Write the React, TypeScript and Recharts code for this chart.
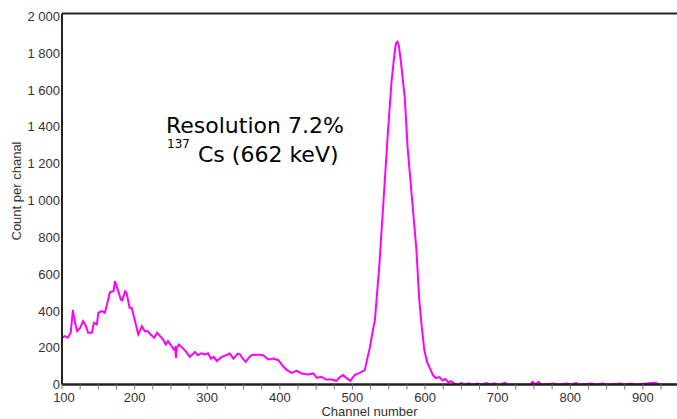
import React from "react";
import {
  LineChart,
  Line,
  XAxis,
  YAxis,
  Label,
  ReferenceLine,
} from "recharts";

// channel positions and counts
const channels = [
  100, 104, 108, 112, 115, 118, 121, 125, 129, 133, 136, 141, 144, 148, 150, 155, 159, 162, 166, 171,
  173, 176, 181, 183, 187, 189, 193, 196, 200, 205, 210, 214, 218, 222, 227, 231, 235, 239, 243, 246,
  251, 254, 256, 257, 258, 261, 266, 271, 276, 283, 287, 292, 297, 301, 305, 309, 313, 320, 326, 331,
  336, 342, 345, 349, 353, 357, 361, 366, 372, 377, 384, 391, 398, 405, 409, 416, 423, 430, 439, 446,
  451, 457, 464, 471, 478, 482, 487, 491, 497, 503, 510, 517, 521, 524, 528, 531, 537, 543, 549, 554,
  558, 560, 562, 564, 567, 572, 576, 582, 588, 592, 595, 599, 603, 606, 611, 615, 620, 624, 628, 632,
  636, 640, 645, 650, 655, 660, 665, 672, 678, 685, 690, 695, 700, 705, 710, 713, 745, 748, 752, 756,
  760, 778, 782, 796, 800, 808, 812, 830, 834, 846, 850, 870, 874, 885, 889, 913, 918, 922, 945,
];
const counts = [
  254, 263, 254, 281, 404, 335, 290, 308, 344, 317, 281, 281, 335, 326, 390, 399, 390, 435, 502, 507,
  561, 525, 462, 458, 507, 498, 417, 417, 353, 272, 317, 290, 290, 272, 254, 281, 263, 245, 217, 236,
  208, 190, 200, 145, 199, 217, 199, 177, 150, 177, 159, 170, 164, 170, 141, 150, 128, 150, 159, 168,
  141, 168, 164, 140, 123, 145, 159, 162, 161, 159, 136, 141, 132, 96, 81, 63, 74, 60, 54, 60,
  36, 42, 27, 27, 20, 38, 51, 38, 20, 51, 63, 78, 150, 200, 291, 352, 645, 1012, 1379, 1653,
  1800, 1855, 1862, 1840, 1745, 1562, 1287, 1012, 737, 462, 330, 187, 120, 94, 50, 35, 40, 22, 30, 12,
  18, 5, 0, 8, 0, 6, 0, 5, 0, 8, 0, 6, 0, 0, 10, 0, 0, 15, 0, 14,
  0, 5, 0, 6, 0, 8, 0, 6, 0, 5, 0, 6, 0, 5, 0, 8, 10, 0, 0,
];
const xTicks = [
  100, 125, 150, 175, 200, 225, 250, 275, 300, 325, 350, 375, 400, 425, 450, 475, 500, 525, 550, 575,
  600, 625, 650, 675, 700, 725, 750, 775, 800, 825, 850, 875, 900, 925,
];
const yTicks = [0, 200, 400, 600, 800, 1000, 1200, 1400, 1600, 1800, 2000];

const data = channels.map((ch, i) => ({ ch, count: counts[i] }));

const tickFont = { fontFamily: "Liberation Sans, Arial, sans-serif", fontSize: 13, fill: "#333" };

const fmtThousands = (v: number) =>
  v >= 1000 ? `${Math.floor(v / 1000)} ${String(v % 1000).padStart(3, "0")}` : String(v);

function XTick(props: any) {
  const { x, y, payload } = props;
  const major = payload.value % 100 === 0;
  return (
    <g>
      <line x1={x} x2={x} y1={y} y2={y + 5} stroke="#777" strokeWidth={1} />
      {major && (
        <text x={x + (payload.value === 100 ? 2 : 0)} y={y + 17.5} textAnchor="middle" {...tickFont}>
          {payload.value}
        </text>
      )}
    </g>
  );
}

export default function App() {
  return (
    <div style={{ position: "absolute", left: 0, top: 0, width: 677, height: 419, background: "#fff" }}>
      <LineChart
        width={677}
        height={419}
        data={data}
        margin={{ top: 13.5, right: 0, bottom: 0, left: 0 }}
      >
        <XAxis
          dataKey="ch"
          type="number"
          domain={[100, 947]}
          ticks={xTicks}
          interval={0}
          allowDataOverflow
          height={34.5}
          tickLine={false}
          tickSize={0}
          tickMargin={0}
          tick={<XTick />}
          axisLine={{ stroke: "#222", strokeWidth: 2 }}
        >
          <Label
            value="Channel number"
            position="insideBottom"
            offset={3}
            style={{ fontFamily: "Liberation Sans, Arial, sans-serif", fontSize: 13, fill: "#333" }}
          />
        </XAxis>
        <YAxis
          type="number"
          domain={[0, 2016]}
          ticks={yTicks}
          interval={0}
          allowDataOverflow
          width={62}
          tickLine={false}
          tickSize={0}
          tickMargin={2}
          tickFormatter={fmtThousands}
          tick={tickFont}
          axisLine={{ stroke: "#222", strokeWidth: 2 }}
        >
          <Label
            content={() => (
              <text
                x={21}
                y={191}
                transform="rotate(-90 21 191)"
                textAnchor="middle"
                {...tickFont}
              >
                Count per chanal
              </text>
            )}
          />
        </YAxis>
        <ReferenceLine y={2016} stroke="#222" strokeWidth={2} ifOverflow="extendDomain" />
        <Line
          type="linear"
          dataKey="count"
          stroke="#ff00ff"
          strokeWidth={2}
          dot={false}
          isAnimationActive={false}
        />
        <ReferenceLine y={0} stroke="#222" strokeWidth={2} />
      </LineChart>
      <svg
        width={677}
        height={419}
        style={{ position: "absolute", left: 0, top: 0, pointerEvents: "none" }}
      >
        <text x={166} y={133} fontFamily="DejaVu Sans, Verdana, sans-serif" fontSize={22} fill="#000">
          Resolution 7.2%
        </text>
        <text x={167} y={148} fontFamily="DejaVu Sans, Verdana, sans-serif" fontSize={12} fill="#000">
          137
        </text>
        <text x={198} y={162} fontFamily="DejaVu Sans, Verdana, sans-serif" fontSize={22} fill="#000">
          Cs (662 keV)
        </text>
      </svg>
    </div>
  );
}
